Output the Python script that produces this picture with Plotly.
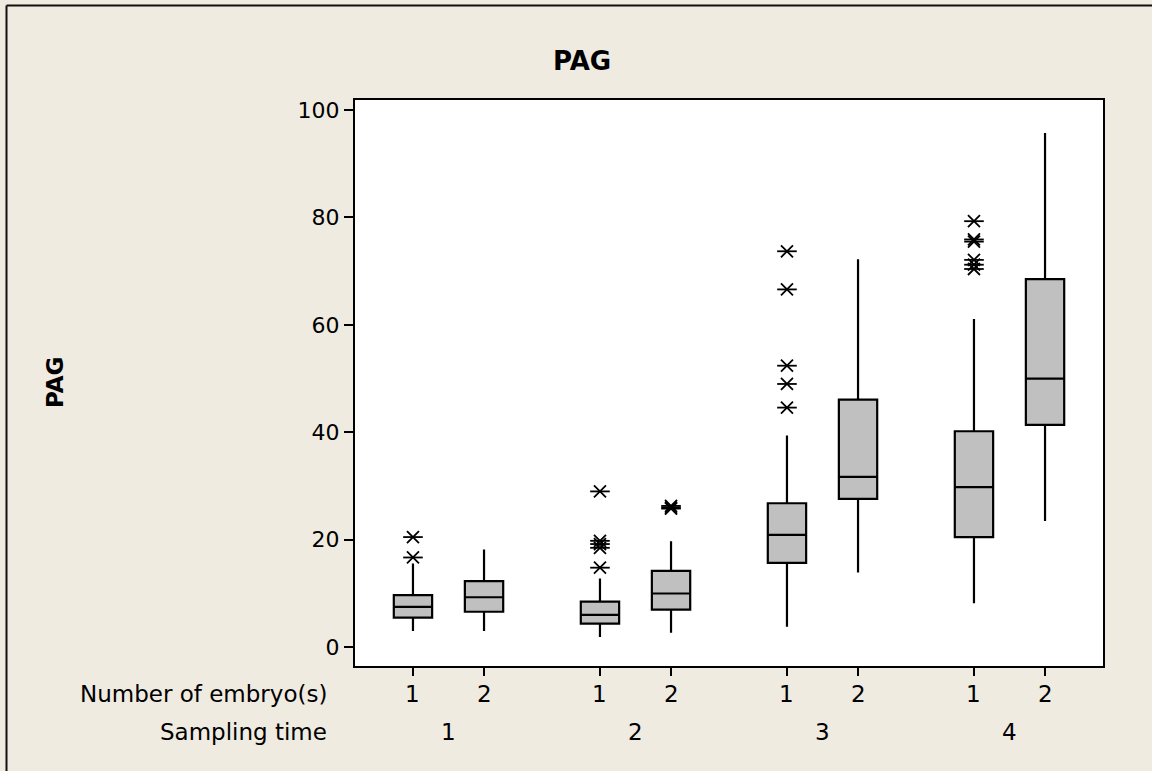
import plotly.graph_objects as go

# ---- data ----
sampling_time = [1, 1, 2, 2, 3, 3, 4, 4]
embryos = [1, 2, 1, 2, 1, 2, 1, 2]
q1 = [5.5, 6.6, 4.4, 7.0, 15.7, 27.6, 20.5, 41.4]
median = [7.5, 9.3, 6.0, 10.0, 20.9, 31.7, 29.8, 50.0]
q3 = [9.7, 12.3, 8.5, 14.2, 26.8, 46.1, 40.2, 68.5]
lower_whisker = [3.0, 3.0, 1.9, 2.7, 3.8, 13.9, 8.2, 23.5]
upper_whisker = [15.6, 18.2, 12.8, 19.7, 39.4, 72.2, 61.1, 95.7]

outlier_box = [0, 0,
               2, 2, 2, 2, 2,
               3, 3, 3,
               4, 4, 4, 4, 4,
               6, 6, 6, 6, 6, 6]
outlier_values = [20.5, 16.7,
                  29.0, 19.8, 19.2, 18.5, 14.8,
                  26.3, 26.0, 25.8,
                  73.7, 66.6, 52.4, 49.0, 44.6,
                  79.3, 75.9, 75.5, 72.1, 71.2, 70.4]

y_ticks = [0, 20, 40, 60, 80, 100]
group_labels = ["1", "2", "3", "4"]
row_labels = ["Number of embryo(s)", "Sampling time"]

# ---- layout helpers ----
W, H = 1152, 771
ML, MR, MT, MB = 355, 49, 100, 105
PW, PH = W - ML - MR, H - MT - MB


def px_x(p):
    return (p - ML) / PW


def px_y(p):
    return (H - MB - p) / PH


pos = [t + (-0.19 if e == 1 else 0.19) for t, e in zip(sampling_time, embryos)]
FONT = "DejaVu Sans"

fig = go.Figure()
fig.add_trace(go.Box(
    x=pos, q1=q1, median=median, q3=q3,
    lowerfence=lower_whisker, upperfence=upper_whisker,
    width=0.205, whiskerwidth=0, boxpoints=False,
    fillcolor="#C0C0C0", line=dict(color="black", width=2.2),
    showlegend=False, hoverinfo="skip",
))

ox = [pos[i] for i in outlier_box]
for sym, size in (("x-thin-open", 12), ("line-ew-open", 14)):
    fig.add_trace(go.Scatter(
        x=ox, y=outlier_values, mode="markers", showlegend=False,
        hoverinfo="skip",
        marker=dict(symbol=sym, size=size, color="black",
                    line=dict(color="black", width=1.8)),
    ))

annotations = []
annotations.append(dict(text="<b>PAG</b>", x=px_x(582), y=px_y(61.5),
                        xref="paper", yref="paper", xanchor="center",
                        yanchor="middle", showarrow=False,
                        font=dict(family=FONT, size=26, color="black")))
annotations.append(dict(text="<b>PAG</b>", x=px_x(55), y=0.5, textangle=-90,
                        xref="paper", yref="paper", xanchor="center",
                        yanchor="middle", showarrow=False,
                        font=dict(family=FONT, size=23, color="black")))
for lbl, py in zip(row_labels, (694, 732)):
    annotations.append(dict(text=lbl, x=px_x(329), y=px_y(py), xref="paper",
                            yref="paper", xanchor="right", yanchor="middle",
                            showarrow=False,
                            font=dict(family=FONT, size=23, color="black")))
for p, e in zip(pos, embryos):
    annotations.append(dict(text=str(e), x=p, y=px_y(694), xref="x",
                            yref="paper", xanchor="center", yanchor="middle",
                            showarrow=False,
                            font=dict(family=FONT, size=23, color="black")))
for g, lbl in zip(sorted(set(sampling_time)), group_labels):
    annotations.append(dict(text=lbl, x=g, y=px_y(732), xref="x",
                            yref="paper", xanchor="center", yanchor="middle",
                            showarrow=False,
                            font=dict(family=FONT, size=23, color="black")))

frame_x, frame_y = px_x(6.5), px_y(5.5)
shapes = [
    dict(type="line", xref="paper", yref="paper", x0=frame_x, x1=frame_x,
         y0=-0.3, y1=frame_y, line=dict(color="#111111", width=2)),
    dict(type="line", xref="paper", yref="paper", x0=frame_x, x1=1.2,
         y0=frame_y, y1=frame_y, line=dict(color="#111111", width=2)),
]

fig.update_layout(
    width=W, height=H, autosize=False,
    margin=dict(l=ML, r=MR, t=MT, b=MB, pad=0),
    paper_bgcolor="#EFEBE1", plot_bgcolor="white",
    annotations=annotations, shapes=shapes,
    font=dict(family=FONT, color="black"),
    xaxis=dict(range=[0.5, 4.5], tickvals=pos, showticklabels=False,
               ticks="outside", ticklen=8, tickwidth=1.5, tickcolor="black",
               showline=True, linecolor="black", linewidth=2, mirror=True,
               showgrid=False, zeroline=False, fixedrange=True),
    yaxis=dict(range=[-3.5, 101.86], tickvals=y_ticks, ticks="outside",
               ticklen=9, tickwidth=1.5, tickcolor="black",
               tickfont=dict(family=FONT, size=22, color="black"),
               showline=True, linecolor="black", linewidth=2, mirror=True,
               showgrid=False, zeroline=False, fixedrange=True),
)

fig.write_html("out.html")
